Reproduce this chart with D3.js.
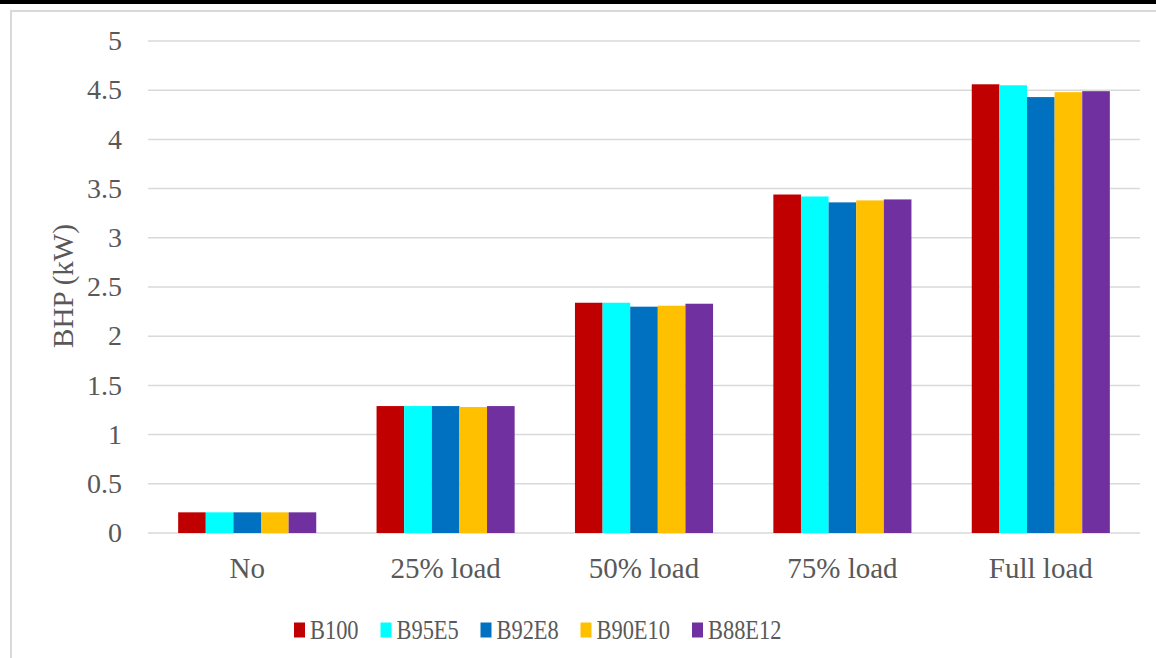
<!DOCTYPE html>
<html><head><meta charset="utf-8">
<script src="https://cdn.jsdelivr.net/npm/d3@7"></script>
</head><body>
<script>
const categories = ["No", "25% load", "50% load", "75% load", "Full load"];
const seriesNames = ["B100", "B95E5", "B92E8", "B90E10", "B88E12"];
const colors = ["#C00000", "#00FFFF", "#0070C0", "#FFC000", "#7030A0"];
const B100   = [0.21, 1.29, 2.34, 3.44, 4.56];
const B95E5  = [0.21, 1.29, 2.34, 3.42, 4.55];
const B92E8  = [0.21, 1.29, 2.30, 3.36, 4.43];
const B90E10 = [0.21, 1.28, 2.31, 3.38, 4.48];
const B88E12 = [0.21, 1.29, 2.33, 3.39, 4.49];
const seriesValues = [B100, B95E5, B92E8, B90E10, B88E12];
const yTicks = [0, 0.5, 1, 1.5, 2, 2.5, 3, 3.5, 4, 4.5, 5];
const yTickLabels = ["0", "0.5", "1", "1.5", "2", "2.5", "3", "3.5", "4", "4.5", "5"];
const yTitle = "BHP (kW)";

(function () {
const W = 1156, H = 658;
const font = "Liberation Serif";
const txt = "#595959";
d3.select("body").style("margin", "0px");
const svg = d3.select("body").append("svg").attr("width", W).attr("height", H).style("display", "block");

svg.append("rect").attr("x", 0).attr("y", 0).attr("width", W).attr("height", 4).attr("fill", "#000");
svg.append("rect").attr("x", 11).attr("y", 11).attr("width", W + 20).attr("height", H + 20)
  .attr("fill", "none").attr("stroke", "#d9d9d9").attr("stroke-width", 2);

const pLeft = 148, pRight = 1140, pTop = 41, pBottom = 533;
const x0 = d3.scaleBand().domain(categories).range([pLeft, pRight]).paddingInner(0.304).paddingOuter(0.152);
const x1 = d3.scaleBand().domain(seriesNames).range([0, x0.bandwidth()]);
const y = d3.scaleLinear().domain([0, 5]).range([pBottom, pTop]);

svg.append("g").selectAll("line").data(yTicks).join("line")
  .attr("x1", pLeft).attr("x2", pRight)
  .attr("y1", d => y(d)).attr("y2", d => y(d))
  .attr("stroke", "#d9d9d9").attr("stroke-width", 1.5);

// bars
const groups = svg.append("g").selectAll("g").data(categories).join("g")
  .attr("transform", d => `translate(${x0(d)},0)`);
groups.selectAll("rect").data((c, ci) => seriesNames.map((s, si) => ({s, si, v: seriesValues[si][ci]})))
  .join("rect")
  .attr("x", d => x1(d.s)).attr("width", x1.bandwidth())
  .attr("y", d => y(d.v)).attr("height", d => y(0) - y(d.v))
  .attr("fill", d => colors[d.si]);

// y tick labels (positions from the scale)
svg.selectAll("text.ytick").data(yTicks).join("text").attr("class", "ytick")
  .attr("x", pLeft - 26).attr("y", d => y(d)).attr("dy", "0.33em")
  .attr("text-anchor", "end").attr("font-size", 28).attr("font-family", font)
  .attr("fill", txt).text((d, i) => yTickLabels[i]);

// x category labels
svg.selectAll("text.xtick").data(categories).join("text").attr("class", "xtick")
  .attr("x", d => x0(d) + x0.bandwidth() / 2).attr("y", pBottom + 35).attr("dy", "0.33em")
  .attr("text-anchor", "middle").attr("font-size", 29).attr("font-family", font)
  .attr("fill", txt).text(d => d);

// y title
svg.append("text").attr("transform", "translate(63,286) rotate(-90)")
  .attr("text-anchor", "middle").attr("dy", "0.33em")
  .attr("font-size", 29).attr("font-family", font).attr("fill", txt).text(yTitle);

// legend
const legendX = [294, 380.5, 480.5, 580.5, 692];
svg.selectAll("rect.lsw").data(seriesNames).join("rect").attr("class", "lsw")
  .attr("x", (d, i) => legendX[i]).attr("y", 622.5).attr("width", 11).attr("height", 15)
  .attr("fill", (d, i) => colors[i]);
svg.selectAll("text.ltx").data(seriesNames).join("text").attr("class", "ltx")
  .attr("transform", (d, i) => `translate(${legendX[i] + 16},630) scale(0.83,1)`)
  .attr("dy", "0.35em")
  .attr("font-size", 27).attr("font-family", font).attr("fill", txt).text(d => d);
})();
</script>
</body></html>
